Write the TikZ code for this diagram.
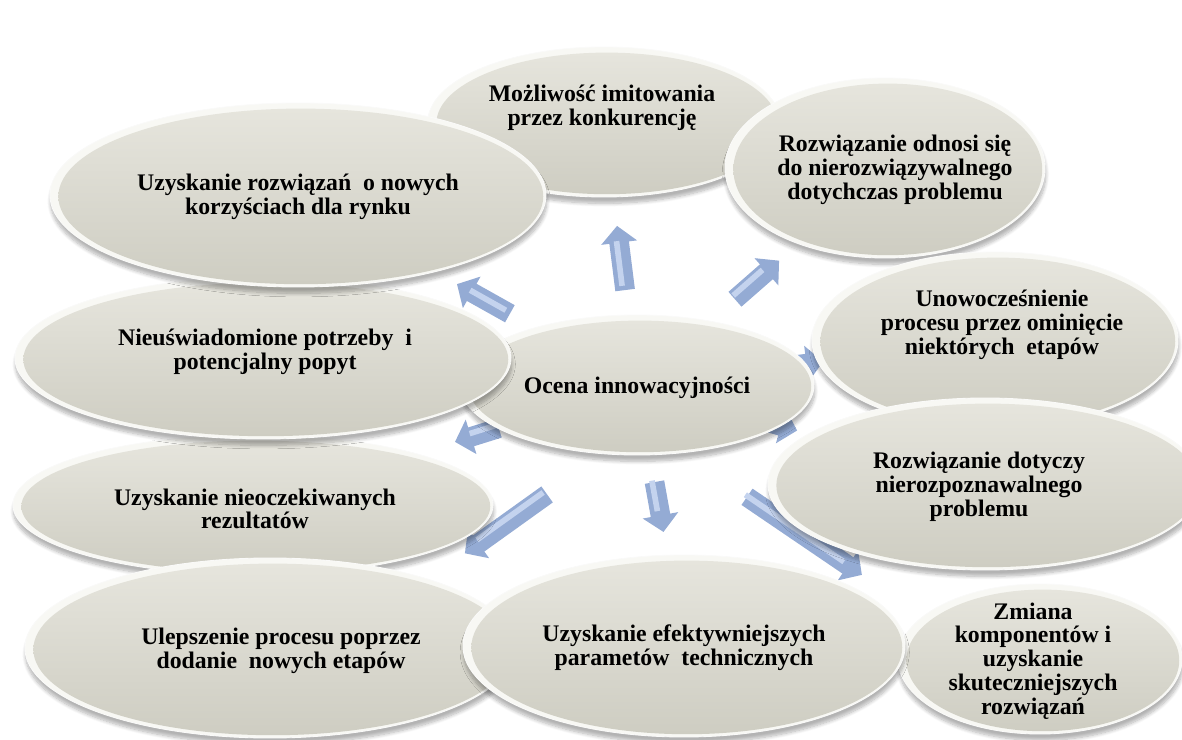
\documentclass[tikz,border=0pt]{standalone}
\usepackage{fontspec}
\setmainfont{Liberation Serif}
\usetikzlibrary{shapes.geometric, arrows.meta, calc, backgrounds, shadows.blur}

\definecolor{bodytop}{RGB}{230,229,221}
\definecolor{bodybot}{RGB}{206,205,194}
\definecolor{rimlight}{RGB}{248,248,244}
\definecolor{arrowblue}{RGB}{148,171,212}
\definecolor{arrowlight}{RGB}{196,211,238}

\tikzset{
  blob/.style 2 args={ellipse, inner sep=0pt,
    minimum width={#1*0.05cm}, minimum height={#2*0.05cm},
    draw=white!90!bodybot, line width=0.6pt,
    blur shadow={shadow xshift=0.5pt, shadow yshift=-4.5pt, shadow blur radius=2.5pt,
      shadow blur steps=8, shadow opacity=30},
    path picture={
      \fill[rimlight] (path picture bounding box.south west) rectangle (path picture bounding box.north east);
      \shade[top color=bodytop, bottom color=bodybot]
        let \p1=($(path picture bounding box.north east)-(path picture bounding box.center)$) in
        ([shift={(2pt,-1pt)}]path picture bounding box.center) ellipse [x radius=\x1-4pt, y radius=\y1-3pt];
    }},
  txt/.style={font=\bfseries\fontsize{16.9}{16.9}\selectfont, align=center},
  flow/.style={draw=arrowblue, line width=14pt, -{Triangle[width=25pt, length=12pt]},
    postaction={draw=arrowlight, line width=4pt, -, shorten >=13pt, shorten <=1pt,
      transform canvas={shift={(-2pt,2pt)}}}}
}

\begin{document}
\begin{tikzpicture}[x=0.025cm, y=-0.025cm]
  \useasboundingbox (0,0) rectangle (1182,740);

  % outer ring, back to front
  \node[blob={176}{75}] (imit) at (604,122) {};
  \node[txt] (imit-t) at (602,108) {Możliwość imitowania\\przez konkurencję};

  \node[blob={160}{90}] (odnosi) at (885,168) {};
  \node[txt] (odnosi-t) at (895,170) {Rozwiązanie odnosi się\\do nierozwiązywalnego\\dotychczas problemu};

  \node[blob={183}{88}] (omin) at (995,340) {};
  \node[txt] (omin-t) at (1002,325) {Unowocześnienie\\procesu przez ominięcie\\niektórych~ etapów};

  \node[blob={217}{86}] (nierozp) at (985,484) {};
  \node[txt] (nierozp-t) at (979,487) {Rozwiązanie dotyczy\\nierozpoznawalnego\\problemu};

  \node[blob={142}{75}] (zmiana) at (1040,659) {};
  \node[txt] (zmiana-t) at (1033,661) {Zmiana\\komponentów i\\uzyskanie\\skuteczniejszych\\rozwiązań};

  % centre
  \node[blob={177}{70}] (ocena) at (637,385) {};
  \node[txt] (ocena-t) at (637,388) {Ocena innowacyjności};

  \node[blob={240}{70}] (rezult) at (253,505) {};
  \node[txt] (rezult-t) at (255,509) {Uzyskanie nieoczekiwanych\\rezultatów};

  \node[blob={248}{81}] (popyt) at (263,358) {};
  \node[txt] (popyt-t) at (265,352) {Nieuświadomione potrzeby~ i\\potencjalny popyt};

  \node[blob={248}{92}] (korzysci) at (298,195) {};
  \node[txt] (korzysci-t) at (298,197) {Uzyskanie rozwiązań~ o nowych\\korzyściach dla rynku};

  \node[blob={245}{90}] (dodanie) at (270,648) {};
  \node[txt] (dodanie-t) at (281,651) {Ulepszenie procesu poprzez\\dodanie~ nowych etapów};

  \node[blob={221}{91}] (param) at (684,646) {};
  \node[txt] (param-t) at (684,648) {Uzyskanie efektywniejszych\\parametów~ technicznych};

  % arrows out of the centre, kept under the ellipses
  \begin{scope}[on background layer]
    \draw[flow] ($(ocena)!0.361!(imit)$) -- ($(ocena)!0.605!(imit)$);
    \draw[flow] ($(ocena)!0.395!(odnosi)$) -- ($(ocena)!0.573!(odnosi)$);
    \draw[flow] ($(ocena)!0.375!(korzysci)$) -- ($(ocena)!0.531!(korzysci)$);
    \draw[flow] ($(ocena)!0.36!(rezult)$) -- ($(ocena)!0.474!(rezult)$);
    \draw[flow] ($(ocena)!0.245!(dodanie)+(0,45)$) -- ($(ocena)!0.469!(dodanie)+(0,45)$);
    \draw[flow] ($(ocena)!0.372!(param)$) -- ($(ocena)!0.563!(param)$);
    \draw[flow] ($(ocena)!0.273!(zmiana)+(0,37)$) -- ($(ocena)!0.558!(zmiana)+(0,37)$);
    \draw[flow] ($(ocena)!0.40!(omin)$) -- ($(ocena)!0.52!(omin)$);
    \draw[flow] ($(ocena)!0.35!(nierozp)$) -- ($(ocena)!0.46!(nierozp)$);
  \end{scope}
\end{tikzpicture}
\end{document}
